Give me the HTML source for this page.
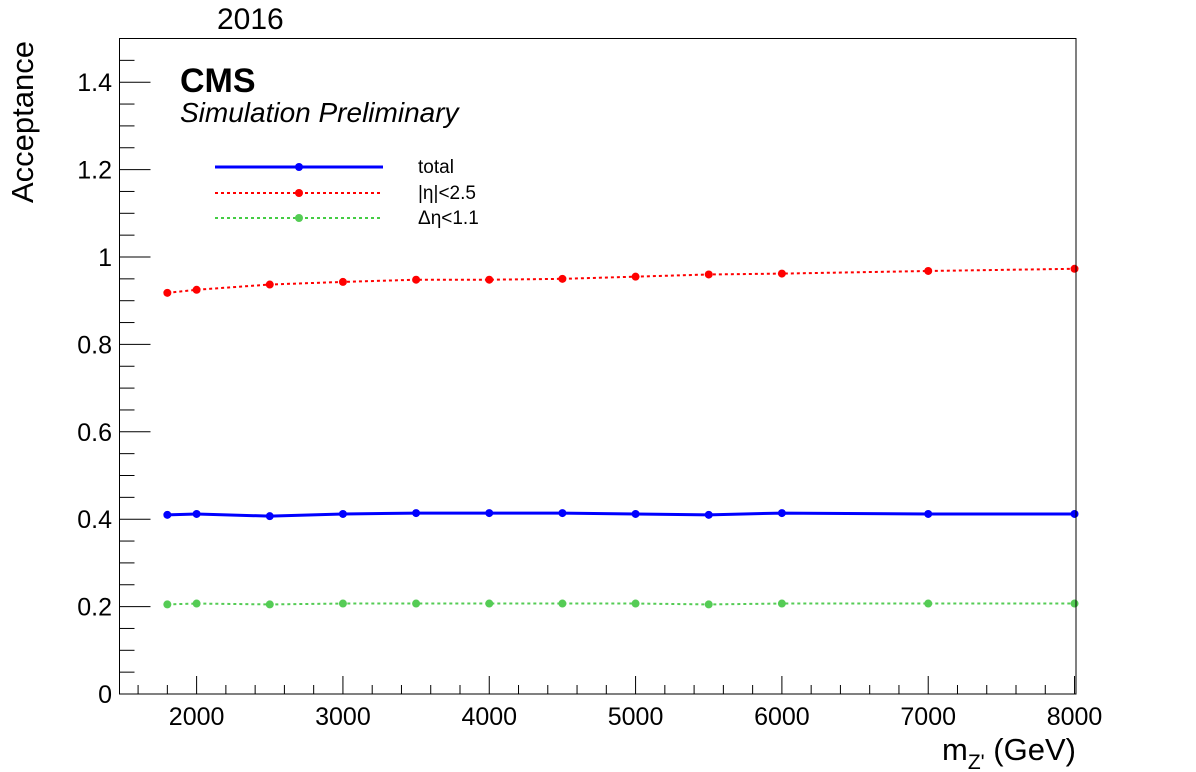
<!DOCTYPE html>
<html><head><meta charset="utf-8"><style>
body{margin:0;background:#fff;}
svg{display:block;font-family:"Liberation Sans",sans-serif;}
</style></head><body>
<svg id="chart" width="1196" height="772" viewBox="0 0 1196 772" xmlns="http://www.w3.org/2000/svg">
<rect x="0" y="0" width="1196" height="772" fill="#fff"/>
<g id="ticks"></g>
<g id="series"></g>
<rect x="119.5" y="38.5" width="956.5" height="655.5" fill="none" stroke="#000" stroke-width="1"/>
<text x="217" y="29" font-size="30">2016</text>
<text x="180" y="92" font-size="34" font-weight="bold">CMS</text>
<text x="180" y="122" font-size="28" font-style="italic">Simulation Preliminary</text>
<text transform="translate(33,203) rotate(-90)" font-size="31">Acceptance</text>
<text x="942" y="760" font-size="31">m<tspan font-size="21" dy="9">Z'</tspan><tspan dy="-9"> (GeV)</tspan></text>
<g>
<line x1="215" y1="167" x2="383" y2="167" stroke="#0000ff" stroke-width="3"/>
<circle cx="299" cy="167" r="4" fill="#0000ff"/>
<text x="418" y="173" font-size="19">total</text>
<line x1="215" y1="193" x2="383" y2="193" stroke="#ff0000" stroke-width="2" stroke-dasharray="3,3"/>
<circle cx="299" cy="193" r="4" fill="#ff0000"/>
<text x="418" y="199" font-size="19">|η|&lt;2.5</text>
<line x1="215" y1="218" x2="383" y2="218" stroke="#44cc44" stroke-width="2" stroke-dasharray="3,3"/>
<circle cx="299" cy="218" r="4" fill="#55cc55"/>
<text x="418" y="224" font-size="19">Δη&lt;1.1</text>
</g>
</svg>
<script>
const masses = [1800,2000,2500,3000,3500,4000,4500,5000,5500,6000,7000,8000];
const totalAcc = [0.410,0.412,0.407,0.412,0.414,0.414,0.414,0.412,0.410,0.414,0.412,0.412];
const etaAcc = [0.918,0.925,0.937,0.943,0.948,0.948,0.950,0.955,0.960,0.962,0.968,0.973];
const detaAcc = [0.205,0.207,0.205,0.207,0.207,0.207,0.207,0.207,0.205,0.207,0.207,0.207];
const xTickLabels = [2000,3000,4000,5000,6000,7000,8000];
const yTickLabels = [0,0.2,0.4,0.6,0.8,1,1.2,1.4];

const NS = "http://www.w3.org/2000/svg";
const X0 = 119.5, X1 = 1076, XMIN = 1473, XMAX = 8010;
const Y0 = 694, Y1 = 38.5, YMIN = 0, YMAX = 1.5;
function sx(v){ return X0 + (v - XMIN) / (XMAX - XMIN) * (X1 - X0); }
function sy(v){ return Y0 - (v - YMIN) / (YMAX - YMIN) * (Y0 - Y1); }
function mk(tag, attrs, parent){ const e = document.createElementNS(NS, tag); for (const k in attrs) e.setAttribute(k, attrs[k]); parent.appendChild(e); return e; }

const ticks = document.getElementById('ticks');
for (let v = 1600; v <= 8000; v += 200) {
  const major = v % 1000 === 0;
  const t = mk('line', {x1: sx(v), x2: sx(v), y1: Y0, y2: Y0 - (major ? 18 : 9), stroke: '#000'}, ticks);
  
  
}
xTickLabels.forEach(v => {
  const t = mk('text', {x: sx(v), y: 725, 'font-size': 25, 'text-anchor': 'middle'}, ticks);
  t.textContent = v;
  
  
});
for (let i = 0; i <= 29; i++) {
  const v = i * 0.05;
  const major = i % 4 === 0;
  const t = mk('line', {x1: X0, x2: X0 + (major ? 31 : 15), y1: sy(v), y2: sy(v), stroke: '#000'}, ticks);
  
  
}
yTickLabels.forEach(v => {
  const t = mk('text', {x: 112, y: sy(v) + 9, 'font-size': 25, 'text-anchor': 'end'}, ticks);
  t.textContent = String(v);
  
  
});

const series = document.getElementById('series');
function drawSeries(vals, color, width, dash, name){
  const g = mk('g', {}, series);
  
  
  const pts = masses.map((m, i) => sx(m) + ',' + sy(vals[i])).join(' ');
  const attrs = {points: pts, fill: 'none', stroke: color, 'stroke-width': width};
  if (dash) attrs['stroke-dasharray'] = dash;
  const pl = mk('polyline', attrs, g);
  
  
  masses.forEach((m, i) => {
    const c = mk('circle', {cx: sx(m), cy: sy(vals[i]), r: 4, fill: color}, g);
    
    
  });
}
drawSeries(etaAcc, '#ff0000', 2, '3,3', 'eta-series');
drawSeries(totalAcc, '#0000ff', 3, null, 'total-series');
drawSeries(detaAcc, '#55cc55', 2, '3,3', 'deta-series');
</script>
</body></html>
